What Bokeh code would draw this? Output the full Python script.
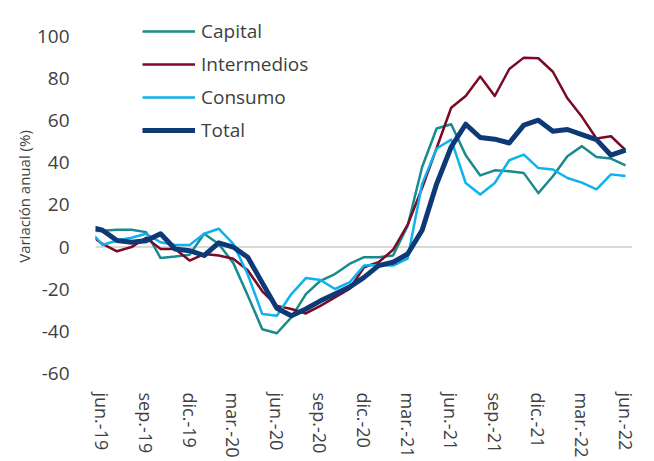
from bokeh.plotting import figure
from bokeh.models import Range1d, FixedTicker, Span, Legend, LegendItem, Title
from bokeh.embed import file_html
from bokeh.resources import INLINE

# Monthly periods (first one only partly visible at the left edge)
periods = ["may.-19", "jun.-19", "jul.-19", "ago.-19", "sep.-19", "oct.-19", "nov.-19", "dic.-19",
           "ene.-20", "feb.-20", "mar.-20", "abr.-20", "may.-20", "jun.-20", "jul.-20", "ago.-20",
           "sep.-20", "oct.-20", "nov.-20", "dic.-20", "ene.-21", "feb.-21", "mar.-21", "abr.-21",
           "may.-21", "jun.-21", "jul.-21", "ago.-21", "sep.-21", "oct.-21", "nov.-21", "dic.-21",
           "ene.-22", "feb.-22", "mar.-22", "abr.-22", "may.-22", "jun.-22"]

capital = [7.5, 7.8, 8.2, 8.2, 7.1, -5.2, -4.5, -3.6, 6.3, 1.5, -7.5, -23.0, -39.0, -40.9,
           -33.4, -22.3, -16.0, -12.8, -8.0, -4.8, -4.8, -4.0, 10.0, 38.0, 56.3, 58.3, 43.6,
           34.0, 36.4, 36.0, 35.1, 25.6, 33.6, 43.1, 47.9, 42.8, 42.0, 38.8]

intermedios = [6.5, 1.5, -2.0, 0.0, 4.4, -0.9, -0.9, -6.4, -3.3, -4.0, -5.5, -11.0, -21.0, -27.9,
               -29.4, -31.5, -27.9, -23.9, -19.9, -9.6, -7.2, -1.3, 10.5, 28.0, 47.0, 66.1, 71.7,
               80.9, 71.7, 84.5, 89.9, 89.6, 83.2, 70.6, 61.8, 51.5, 52.6, 46.0]

consumo = [9.0, 1.0, 3.1, 4.4, 6.3, 2.3, 1.0, 1.0, 6.3, 8.7, 1.5, -13.0, -31.8, -32.6,
           -22.3, -14.7, -15.6, -19.9, -16.8, -8.8, -8.5, -8.8, -5.5, 30.0, 46.8, 51.0, 30.4,
           25.0, 30.4, 41.2, 43.9, 37.5, 36.8, 32.8, 30.6, 27.4, 34.5, 33.7]

total = [9.8, 8.0, 3.1, 2.3, 3.0, 6.3, -0.9, -1.7, -4.0, 2.0, 0.0, -4.8, -17.0, -29.0,
         -32.6, -29.4, -25.5, -22.3, -19.0, -14.4, -8.8, -7.2, -3.3, 8.0, 30.0, 47.5, 58.3,
         52.0, 51.2, 49.4, 57.9, 60.2, 55.0, 55.8, 53.4, 51.0, 43.6, 46.0]

tick_labels = ["jun.-19", "sep.-19", "dic.-19", "mar.-20", "jun.-20", "sep.-20", "dic.-20",
               "mar.-21", "jun.-21", "sep.-21", "dic.-21", "mar.-22", "jun.-22"]
y_ticks = [-60, -40, -20, 0, 20, 40, 60, 80, 100]
y_tick_labels = ["-60", "-40", "-20", "0", "20", "40", "60", "80", "100"]

origin = periods.index("jun.-19")
x = [i - origin for i in range(len(periods))]
x_ticks = [periods.index(t) - origin for t in tick_labels]

FONT = "Open Sans"
TXT = "#404040"

# y range extended slightly above 100 so the legend (which sits above the 100 line) is not clipped
p = figure(width=654, height=461,
           x_range=Range1d(-0.48, 36.48), y_range=Range1d(-60, 108),
           output_backend="svg", toolbar_location=None,
           min_border_left=95, min_border_right=22, min_border_top=19, min_border_bottom=88)

p.xgrid.visible = False
p.ygrid.visible = False
p.outline_line_color = None
p.background_fill_color = "white"
p.border_fill_color = "white"

p.add_layout(Span(location=0, dimension="width", line_color="#D9D9D9", line_width=2, level="underlay"))

r_cap = p.line(x, capital, line_color="#1A8A8E", line_width=2.5, line_join="round")
r_int = p.line(x, intermedios, line_color="#7A0A26", line_width=2.5, line_join="round")
r_con = p.line(x, consumo, line_color="#0EB2EE", line_width=2.5, line_join="round")
r_tot = p.line(x, total, line_color="#0D3A76", line_width=5, line_join="round")

# x axis
xa = p.xaxis[0]
xa.ticker = FixedTicker(ticks=x_ticks)
xa.major_label_overrides = {t: l for t, l in zip(x_ticks, tick_labels)}
xa.major_label_orientation = "vertical"
xa.major_label_text_font = FONT
xa.major_label_text_font_size = "18px"
xa.major_label_text_color = TXT
xa.major_label_standoff = 13
xa.axis_line_color = None
xa.major_tick_line_color = None
xa.minor_tick_line_color = None

# y axis
ya = p.yaxis[0]
ya.ticker = FixedTicker(ticks=y_ticks)
ya.major_label_overrides = {t: l for t, l in zip(y_ticks, y_tick_labels)}
ya.major_label_text_font = FONT
ya.major_label_text_font_size = "19px"
ya.major_label_text_color = TXT
ya.major_label_standoff = 20
ya.axis_line_color = None
ya.major_tick_line_color = None
ya.minor_tick_line_color = None

p.add_layout(Title(text="Variación anual (%)", text_font=FONT, text_font_size="15px",
                   text_font_style="normal", text_color=TXT, align="center",
                   offset=5, standoff=0), "left")

legend = Legend(items=[LegendItem(label="Capital", renderers=[r_cap]),
                       LegendItem(label="Intermedios", renderers=[r_int]),
                       LegendItem(label="Consumo", renderers=[r_con]),
                       LegendItem(label="Total", renderers=[r_tot])],
                location=(47, 230), orientation="vertical",
                label_text_font=FONT, label_text_font_size="19px", label_text_color=TXT,
                glyph_width=53, glyph_height=20, label_height=20, label_standoff=6,
                spacing=7, padding=0, margin=0,
                border_line_color=None, background_fill_alpha=0)
p.add_layout(legend)

open("out.html", "w").write(file_html(p, INLINE))
